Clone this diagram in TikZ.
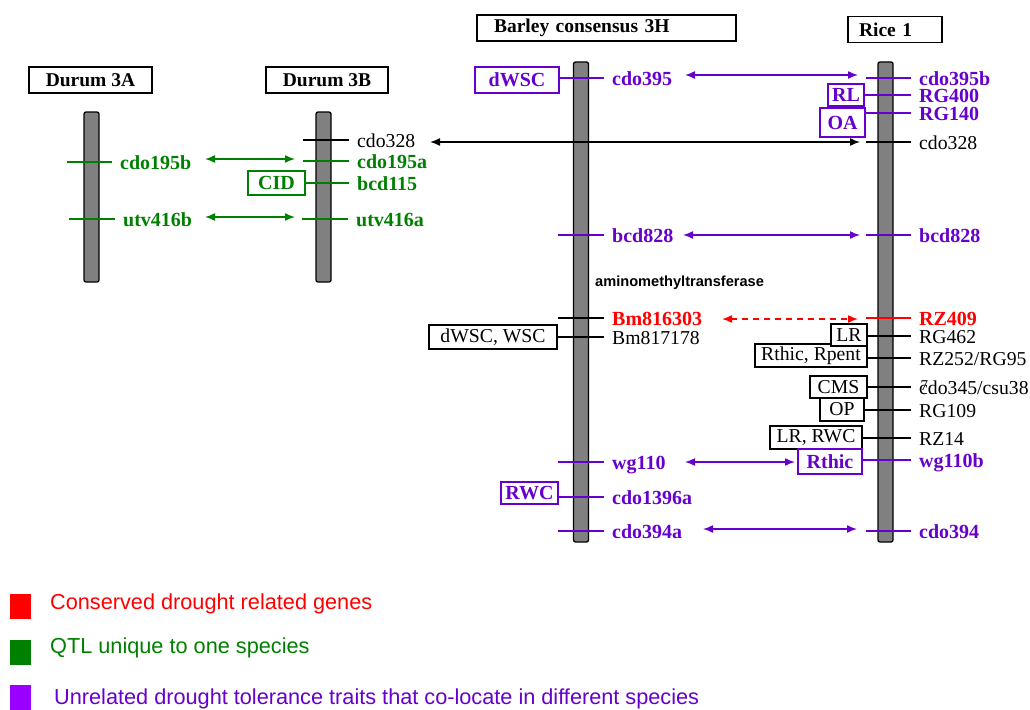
\documentclass[tikz,border=0pt]{standalone}
\usepackage{fontspec}
\setmainfont{Liberation Serif}
\setsansfont{Liberation Sans}
\usetikzlibrary{arrows.meta}
\definecolor{dgreen}{HTML}{008000}
\definecolor{vpurple}{HTML}{6600CC}
\definecolor{lpurple}{HTML}{9900FF}
\definecolor{dred}{HTML}{FF0000}
\definecolor{chromgray}{HTML}{808080}
\begin{document}
\begin{tikzpicture}[x=1pt,y=-1pt,
  chrom/.style={draw=black, line width=1.3pt, fill=chromgray, rounded corners=2pt, minimum width=15pt, inner sep=0pt},
  title/.style={draw=black, line width=1.6pt, inner sep=0pt, minimum height=26pt, font=\bfseries\fontsize{19.5}{22}\selectfont},
  lab/.style={anchor=west, inner xsep=8pt, inner ysep=0pt, text height=15pt, text depth=0pt, font=\fontsize{19.7}{22}\selectfont},
  blab/.style={lab, font=\bfseries\fontsize{20}{22}\selectfont},
  tick/.style={line width=1.4pt},
  trait/.style={draw, fill=white, line width=1.3pt, inner sep=0pt, font=\fontsize{19.7}{22}\selectfont},
  btrait/.style={trait, font=\bfseries\fontsize{20}{22}\selectfont},
  dbl/.style={{Latex[length=10pt,width=8pt]}-{Latex[length=10pt,width=8pt]}, line width=1.5pt},
  legsq/.style={minimum width=21pt, minimum height=25pt, inner sep=0pt},
  legtext/.style={anchor=west, inner sep=0pt, font=\sffamily\fontsize{21.7}{24}\selectfont}
]
\useasboundingbox (0,0) rectangle (1030,709);

% titles
\node[title, minimum width=123pt] (t3A) at (90.5,80) {Durum 3A};
\node[title, minimum width=122pt] (t3B) at (327,80) {Durum 3B};
\node[title, minimum width=259pt, text width=225pt, align=left] (tBar) at (606.5,28) {Barley consensus 3H};
\node[title, minimum width=94pt, text width=72pt, align=left] (tRice) at (895,29.5) {Rice 1};

% chromosomes
\node[chrom, minimum height=170pt] (c3A) at (91.5,197) {};
\node[chrom, minimum height=170pt] (c3B) at (323.5,197) {};
\node[chrom, minimum height=480pt] (cBar) at (581,302) {};
\node[chrom, minimum height=480pt] (cRice) at (885.5,302) {};

% ---------- Durum 3A ----------
\coordinate (s195b) at (67,162);
\node[blab, text=dgreen] (cdo195b) at (112,162) {cdo195b};
\draw[tick, dgreen] (s195b) -- (cdo195b.west);
\coordinate (s416b) at (69,219);
\node[blab, text=dgreen] (utv416b) at (115,219) {utv416b};
\draw[tick, dgreen] (s416b) -- (utv416b.west);

% ---------- Durum 3B ----------
\coordinate (s328B) at (303,140);
\node[lab] (cdo328B) at (349,140) {cdo328};
\draw[tick] (s328B) -- (cdo328B.west);
\coordinate (s195a) at (303,161);
\node[blab, text=dgreen] (cdo195a) at (349,161) {cdo195a};
\draw[tick, dgreen] (s195a) -- (cdo195a.west);
\node[btrait, draw=dgreen, text=dgreen, minimum width=57pt, minimum height=24pt] (CID) at (276.5,183) {CID};
\node[blab, text=dgreen] (bcd115) at (349,183) {bcd115};
\draw[tick, dgreen] (CID.east) -- (bcd115.west);
\coordinate (s416a) at (302,219);
\node[blab, text=dgreen] (utv416a) at (348,219) {utv416a};
\draw[tick, dgreen] (s416a) -- (utv416a.west);

% green arrows
\coordinate (g1l) at (205,159); \coordinate (g1r) at (295,159);
\draw[dbl, dgreen] (g1l) -- (g1r);
\coordinate (g2l) at (205,217); \coordinate (g2r) at (295,217);
\draw[dbl, dgreen] (g2l) -- (g2r);

% ---------- Barley ----------
\node[btrait, draw=vpurple, text=vpurple, minimum width=84pt, minimum height=26pt] (dWSC) at (517,80) {dWSC};
\node[blab, text=vpurple] (cdo395) at (604,78) {cdo395};
\draw[tick, vpurple] (dWSC.east |- cdo395.west) -- (cdo395.west);
\coordinate (s828a) at (558,235);
\node[blab, text=vpurple] (bcd828a) at (604,235) {bcd828};
\draw[tick, vpurple] (s828a) -- (bcd828a.west);
\node[anchor=west, inner sep=0pt, font=\sffamily\bfseries\fontsize{14.6}{16}\selectfont] (amt) at (595,283) {aminomethyltransferase};
\coordinate (s816) at (558,318);
\node[blab, text=dred] (Bm816303) at (604,318) {Bm816303};
\draw[tick] (s816) -- (Bm816303.west);
\node[trait, minimum width=128pt, minimum height=24pt] (dWSCWSC) at (493,337) {dWSC, WSC};
\node[lab] (Bm817178) at (604,337) {Bm817178};
\draw[tick] (dWSCWSC.east) -- (Bm817178.west);
\coordinate (s110) at (558,462);
\node[blab, text=vpurple] (wg110) at (604,462) {wg110};
\draw[tick, vpurple] (s110) -- (wg110.west);
\node[btrait, draw=vpurple, text=vpurple, minimum width=57pt, minimum height=22pt] (RWC) at (529.5,493) {RWC};
\node[blab, text=vpurple] (cdo1396a) at (604,497) {cdo1396a};
\draw[tick, vpurple] (RWC.east |- cdo1396a.west) -- (cdo1396a.west);
\coordinate (s394a) at (558,531);
\node[blab, text=vpurple] (cdo394a) at (604,531) {cdo394a};
\draw[tick, vpurple] (s394a) -- (cdo394a.west);

% ---------- Rice ----------
\coordinate (s395b) at (866,78);
\node[blab, text=vpurple] (cdo395b) at (911,78) {cdo395b};
\draw[tick, vpurple] (s395b) -- (cdo395b.west);
\node[btrait, draw=vpurple, text=vpurple, minimum width=36pt, minimum height=22pt] (RL) at (846,95) {RL};
\node[blab, text=vpurple] (RG400) at (911,95) {RG400};
\draw[tick, vpurple] (RL.east) -- (RG400.west);
\node[btrait, draw=vpurple, text=vpurple, minimum width=45pt, minimum height=29pt] (OA) at (842.5,122.5) {OA};
\node[blab, text=vpurple] (RG140) at (911,113) {RG140};
\draw[tick, vpurple] (OA.east |- RG140.west) -- (RG140.west);
\coordinate (s328R) at (866,142);
\node[lab] (cdo328R) at (911,142) {cdo328};
\draw[tick] (s328R) -- (cdo328R.west);
\coordinate (s828b) at (866,235);
\node[blab, text=vpurple] (bcd828b) at (911,235) {bcd828};
\draw[tick, vpurple] (s828b) -- (bcd828b.west);
\coordinate (s409) at (866,318);
\node[blab, text=dred] (RZ409) at (911,318) {RZ409};
\draw[tick, dred] (s409) -- (RZ409.west);
\node[trait, minimum width=112pt, minimum height=23pt] (RthRp) at (811,355.5) {Rthic, Rpent};
\node[lab] (RZ252) at (911,358) {RZ252/RG95};
\draw[tick] (RthRp.east |- RZ252.west) -- (RZ252.west);
\node[trait, minimum width=36pt, minimum height=22pt] (LR) at (849,335) {LR};
\node[lab] (RG462) at (911,336) {RG462};
\draw[tick] (LR.east |- RG462.west) -- (RG462.west);
\node[trait, minimum width=57pt, minimum height=22pt] (CMS) at (838.5,387) {CMS};
\node[lab] (cdo345) at (911,387) {cdo345/csu38};
\draw[tick] (CMS.east) -- (cdo345.west);
\node[anchor=base west, inner sep=0pt, font=\fontsize{15}{16}\selectfont] (seven) at (920.5,390) {7};
\node[trait, minimum width=44pt, minimum height=23pt] (OP) at (842,409.5) {OP};
\node[lab] (RG109) at (911,410) {RG109};
\draw[tick] (OP.east |- RG109.west) -- (RG109.west);
\node[trait, minimum width=92pt, minimum height=23pt] (LRRWC) at (816,437.5) {LR, RWC};
\node[lab] (RZ14) at (911,438) {RZ14};
\draw[tick] (LRRWC.east |- RZ14.west) -- (RZ14.west);
\node[btrait, draw=vpurple, text=vpurple, minimum width=64pt, minimum height=25pt] (Rthic) at (830,461.5) {Rthic};
\node[blab, text=vpurple] (wg110b) at (911,460) {wg110b};
\draw[tick, vpurple] (Rthic.east |- wg110b.west) -- (wg110b.west);
\coordinate (s394) at (866,531);
\node[blab, text=vpurple] (cdo394) at (911,531) {cdo394};
\draw[tick, vpurple] (s394) -- (cdo394.west);

% ---------- cross-species arrows ----------
\coordinate (a328l) at (430,142); \coordinate (a328r) at (860,142);
\draw[dbl] (a328l) -- (a328r);
\coordinate (a395l) at (685,75); \coordinate (a395r) at (858,75);
\draw[dbl, vpurple] (a395l) -- (a395r);
\coordinate (a828l) at (683,235); \coordinate (a828r) at (860,235);
\draw[dbl, vpurple] (a828l) -- (a828r);
\coordinate (a409l) at (722,319); \coordinate (a409r) at (858,319);
\draw[dbl, dred, dashed, dash pattern=on 6pt off 5pt] (a409l) -- (a409r);
\coordinate (a110l) at (685,462); \coordinate (a110r) at (795,462);
\draw[dbl, vpurple] (a110l) -- (a110r);
\coordinate (a394l) at (703,529); \coordinate (a394r) at (857,529);
\draw[dbl, vpurple] (a394l) -- (a394r);

% ---------- legend ----------
\node[legsq, fill=dred] (sqR) at (20.5,606.5) {};
\node[legtext, text=dred] (lgR) at (50,604) {Conserved drought related genes};
\node[legsq, fill=dgreen] (sqG) at (20.5,652) {};
\node[legtext, text=dgreen] (lgG) at (50,648) {QTL unique to one species};
\node[legsq, fill=lpurple] (sqP) at (20.5,697) {};
\node[legtext, text=vpurple] (lgP) at (54,699) {Unrelated drought tolerance traits that co-locate in different species};
\end{tikzpicture}
\end{document}
